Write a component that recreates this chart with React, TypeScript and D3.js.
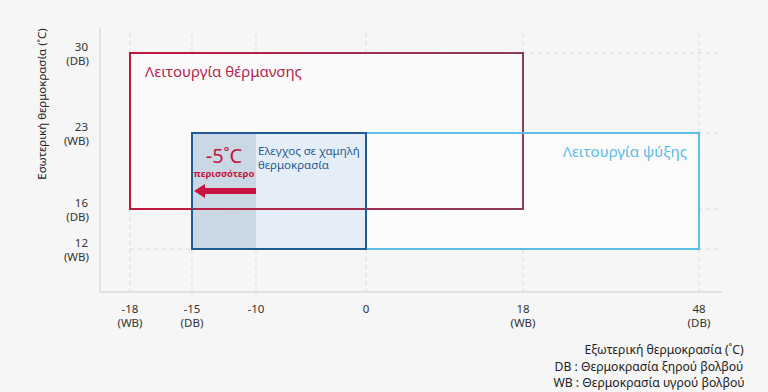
import React from "react";
import * as d3 from "d3";

const xTicks = [-18, -15, -10, 0, 18, 48];
const xTickSub = ["(WB)", "(DB)", "", "", "(WB)", "(DB)"];
const yTicks = [30, 23, 16, 12];
const yTickSub = ["(DB)", "(WB)", "(DB)", "(WB)"];

const heating = { x0: -18, x1: 18, y0: 16, y1: 30, label: "Λειτουργία θέρμανσης" };
const cooling = { x0: -15, x1: 48, y0: 12, y1: 23, label: "Λειτουργία ψύξης" };
const lowTemp = { x0: -15, x1: 0, y0: 12, y1: 23, label: ["Ελεγχος σε χαμηλή", "θερμοκρασία"] };
const extension = { x0: -15, x1: -10, label: "-5˚C", sub: "περισσότερο" };

const yTitle = "Εσωτερική θερμοκρασία (˚C)";
const xTitle = "Εξωτερική θερμοκρασία (˚C)";
const notes = ["DB : Θερμοκρασία ξηρού βολβού", "WB : Θερμοκρασία υγρού βολβού"];

const W = 768;
const H = 392;
const FONT = "'Noto Sans', 'Open Sans', sans-serif";

export default function App() {
  // piecewise (non-uniform) axes as in the original artwork
  const x = d3.scaleLinear().domain(xTicks).range([130, 192, 256, 366, 523, 699]);
  const y = d3.scaleLinear().domain([12, 16, 23, 30]).range([249, 209, 133, 53]);

  const axisX = 100;
  const axisY = 292;
  const gridTop = 33;
  const gridRight = 720;

  const rect = (b: { x0: number; x1: number; y0: number; y1: number }) => ({
    x: x(b.x0),
    y: y(b.y1),
    width: x(b.x1) - x(b.x0),
    height: y(b.y0) - y(b.y1),
  });

  const hR = rect(heating);
  const cR = rect(cooling);
  const lR = rect(lowTemp);
  const eX0 = x(extension.x0);
  const eX1 = x(extension.x1);

  const arrowY = y(heating.y0) - 18;
  const tip = eX0 + 2;
  const headLen = 11;
  const arrowPath = d3.path();
  arrowPath.moveTo(eX1, arrowY - 3);
  arrowPath.lineTo(tip + headLen, arrowY - 3);
  arrowPath.lineTo(tip + headLen, arrowY - 7);
  arrowPath.lineTo(tip, arrowY);
  arrowPath.lineTo(tip + headLen, arrowY + 7);
  arrowPath.lineTo(tip + headLen, arrowY + 3);
  arrowPath.lineTo(eX1, arrowY + 3);
  arrowPath.closePath();

  return (
    <svg
      width={W}
      height={H}
      style={{ position: "absolute", left: 0, top: 0, background: "#f6f6f6" }}
      fontFamily={FONT}
    >
      <defs>
        <linearGradient id="heatGrad" x1="0" x2="1" y1="0" y2="0">
          <stop offset="0" stopColor="#c3163f" />
          <stop offset="1" stopColor="#8b3d5a" />
        </linearGradient>
      </defs>
      <rect x={0} y={0} width={W} height={H} fill="#f6f6f6" />

      {/* grid */}
      {xTicks.map((t) => (
        <line
          key={"gx" + t}
          x1={x(t)}
          x2={x(t)}
          y1={gridTop}
          y2={axisY}
          stroke="#d9d9d9"
          strokeDasharray="4,4"
        />
      ))}
      {yTicks.map((t) => (
        <line
          key={"gy" + t}
          x1={x(xTicks[0])}
          x2={gridRight}
          y1={y(t)}
          y2={y(t)}
          stroke="#d9d9d9"
          strokeDasharray="4,4"
        />
      ))}

      {/* axes */}
      <line x1={axisX} x2={axisX} y1={28} y2={axisY} stroke="#cfcfcf" />
      <line x1={axisX} x2={722} y1={axisY} y2={axisY} stroke="#cfcfcf" />

      {/* box fills */}
      <rect {...hR} fill="#fbfafb" />
      <rect {...cR} fill="#fbfbfc" />
      <rect {...lR} fill="#e5eef6" />
      <rect x={eX0} y={lR.y} width={eX1 - eX0} height={lR.height} fill="#c9d8e4" />

      {/* box strokes */}
      <rect {...hR} fill="none" stroke="url(#heatGrad)" strokeWidth={2} />
      <rect {...cR} fill="none" stroke="#5cbde6" strokeWidth={2} />
      <rect {...lR} fill="none" stroke="#1f5c94" strokeWidth={2} />

      {/* labels */}
      <text x={hR.x + 15} y={hR.y + 24} fontSize={15} fill="#b2244b">
        {heating.label}
      </text>
      <text x={cR.x + cR.width - 12} y={cR.y + 24} fontSize={15} fill="#5bbce4" textAnchor="end">
        {cooling.label}
      </text>
      {lowTemp.label.map((s, i) => (
        <text key={s} x={eX1 + 2} y={lR.y + 22 + i * 14} fontSize={11.5} fill="#1f5c94">
          {s}
        </text>
      ))}
      <text x={(eX0 + eX1) / 2} y={lR.y + 30} fontSize={20} fill="#c3163f" textAnchor="middle">
        {extension.label}
      </text>
      <text
        x={(eX0 + eX1) / 2}
        y={lR.y + 44}
        fontSize={9.5}
        fontWeight="bold"
        fill="#c3163f"
        textAnchor="middle"
      >
        {extension.sub}
      </text>
      <path d={arrowPath.toString()} fill="#c8123f" />

      {/* y ticks */}
      {yTicks.map((t, i) => (
        <g key={"yt" + t} fontSize={11.5} fill="#333" textAnchor="end">
          <text x={88} y={y(t) - 2}>
            {t}
          </text>
          <text x={89} y={y(t) + 12}>
            {yTickSub[i]}
          </text>
        </g>
      ))}

      {/* x ticks */}
      {xTicks.map((t, i) => (
        <g key={"xt" + t} fontSize={11.5} fill="#333" textAnchor="middle">
          <text x={x(t)} y={313}>
            {t}
          </text>
          {xTickSub[i] && (
            <text x={x(t)} y={327}>
              {xTickSub[i]}
            </text>
          )}
        </g>
      ))}

      {/* titles */}
      <text
        transform={`translate(46,104) rotate(-90)`}
        fontSize={11.5}
        fill="#222"
        textAnchor="middle"
      >
        {yTitle}
      </text>
      <text x={664} y={354} fontSize={12.2} fill="#222" textAnchor="middle">
        {xTitle}
      </text>
      {notes.map((n, i) => (
        <text key={n} x={649} y={370.5 + i * 16.5} fontSize={12.2} fill="#222" textAnchor="middle">
          {n}
        </text>
      ))}
    </svg>
  );
}
